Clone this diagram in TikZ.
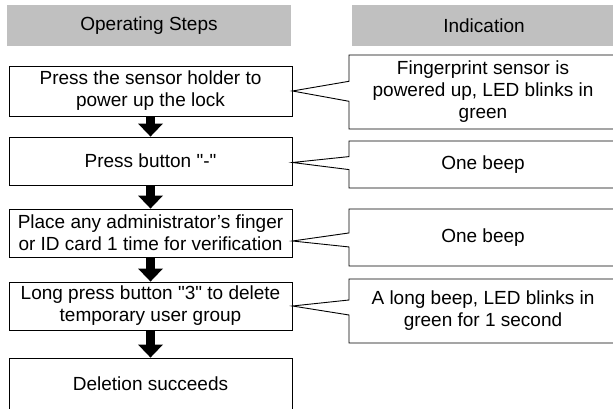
\documentclass[tikz,border=0pt]{standalone}
\usepackage{fontspec}
\setmainfont{Liberation Sans}
\usetikzlibrary{shapes.callouts,arrows.meta}
\definecolor{headgray}{RGB}{192,192,192}
\tikzset{
  head/.style={fill=headgray, minimum height=41pt, inner sep=0pt},
  stepbox/.style={draw, line width=0.9pt, minimum width=283pt, inner sep=0pt, align=center},
  sign/.style={rectangle callout, draw, line width=0.9pt, minimum width=268pt, inner sep=0pt, align=center, callout pointer width=15pt},
  bigarrow/.style={line width=9pt, -{Triangle[width=25pt,length=13pt,line width=0pt]}}
}
\begin{document}
\begin{tikzpicture}[x=1pt,y=-1pt,font=\fontsize{19}{22}\selectfont]
      \path[use as bounding box, clip] (0,0) rectangle (613,409);
      % column heads
      \node[head, minimum width=284pt] (hsteps) at (149,25.5) {Operating Steps};
      \node[head, minimum width=264pt] (hind) at (484,25.5) {Indication};
      % operating steps
      \node[stepbox, minimum height=50pt] (s1) at (150.5,91) {Press the sensor holder to\\power up the lock};
      \node[stepbox, minimum height=48pt] (s2) at (150.5,161) {Press button \textquotedbl-\textquotedbl};
      \node[stepbox, minimum height=48pt] (s3) at (150.5,233) {Place any administrator's finger\\or ID card 1 time for verification};
      \node[stepbox, minimum height=48pt] (s4) at (150.5,306) {Long press button \textquotedbl3\textquotedbl{} to delete\\temporary user group};
      \node[stepbox, minimum height=52pt] (s5) at (150.5,384) {Deletion succeeds};
      \draw[bigarrow] (s1) -- (s2);
      \draw[bigarrow] (s2) -- (s3);
      \draw[bigarrow] (s3) -- (s4);
      \draw[bigarrow] (s4) -- (s5);
      % indications
      \node[sign, minimum height=74pt, callout pointer width=20pt, callout absolute pointer={(s1.east)}] (c1) at (483,92) {Fingerprint sensor is\\powered up, LED blinks in\\green};
      \node[sign, minimum height=47pt, callout pointer width=13pt, callout absolute pointer={([yshift=-1.5pt]s2.east)}] (c2) at (483,164.5) {One beep};
      \node[sign, minimum height=57pt, callout pointer width=14pt, callout absolute pointer={([yshift=-8pt]s3.east)}] (c3) at (483,237.5) {One beep};
      \node[sign, minimum height=64pt, callout absolute pointer={(s4.east)}] (c4) at (483,311) {A long beep, LED blinks in\\green for 1 second};
\end{tikzpicture}
\end{document}
